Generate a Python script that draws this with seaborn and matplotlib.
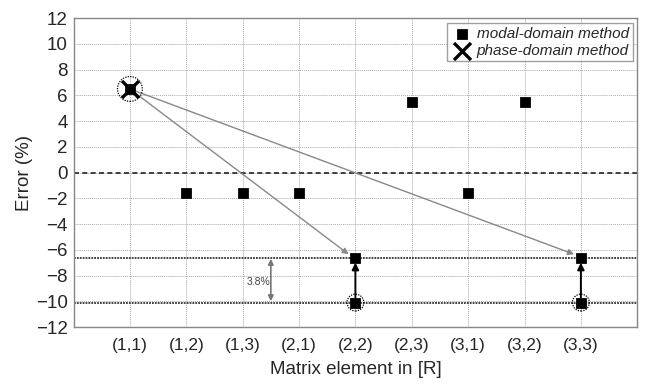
import numpy as np
import pandas as pd
import matplotlib
matplotlib.use('Agg')
import matplotlib.pyplot as plt
import seaborn as sns
from matplotlib.patches import Ellipse

# data
elements = ['(1,1)', '(1,2)', '(1,3)', '(2,1)', '(2,2)', '(2,3)', '(3,1)', '(3,2)', '(3,3)']
modal_pos = [1, 2, 3, 4, 5, 6, 7, 8, 9, 5, 9]
modal_err = [6.5, -1.6, -1.6, -1.6, -6.6, 5.5, -1.6, 5.5, -6.6, -10.1, -10.1]
phase_pos = [1]
phase_err = [6.5]
level_hi = -6.6
level_lo = -10.1

modal = pd.DataFrame({'pos': modal_pos, 'err': modal_err})
phase = pd.DataFrame({'pos': phase_pos, 'err': phase_err})

sns.set_style('white')
plt.rcParams['font.family'] = ['Liberation Sans', 'DejaVu Sans']

fig, ax = plt.subplots(figsize=(6.45, 3.87), dpi=100)
fig.subplots_adjust(left=0.114, right=0.988, top=0.953, bottom=0.155)

ax.set_xlim(0, 10)
ax.set_ylim(-12, 12)
ax.set_xticks(range(1, 10))
ax.set_xticks([10], minor=True)
ax.set_xticklabels(elements, fontsize=12.5)
ax.set_yticks(np.arange(-12, 13, 2))
ax.tick_params(axis='y', labelsize=13.5, length=0, pad=4)
ax.tick_params(axis='x', length=0, pad=8)
ax.grid(True, which='both', color='#aaaaaa', linestyle=(0, (1, 1)), linewidth=0.7)
for s in ax.spines.values():
    s.set_color('#888888')
    s.set_linewidth(1.0)

# reference lines
ax.axhline(0, color='#222222', linestyle=(0, (3, 2)), linewidth=1.2, zorder=2)
ax.axhline(level_hi, color='#333333', linestyle=(0, (1, 0.6)), linewidth=1.3, zorder=2)
ax.axhline(level_lo, color='#333333', linestyle=(0, (1, 0.6)), linewidth=1.3, zorder=2)

# gray arrows from (1,1) to (2,2) and (3,3), black arrows upward
for tx in [5, 9]:
    ax.annotate('', xy=(tx - 0.12, level_hi + 0.25), xytext=(phase_pos[0], phase_err[0]),
                arrowprops=dict(arrowstyle='-|>', color='#888888', lw=1.0,
                                mutation_scale=9, shrinkA=0, shrinkB=0), zorder=3)
    ax.annotate('', xy=(tx, level_hi - 0.4), xytext=(tx, level_lo + 0.4),
                arrowprops=dict(arrowstyle='-|>', color='black', lw=1.4,
                                mutation_scale=10, shrinkA=0, shrinkB=0), zorder=3)

# 3.8% double arrow
ax.annotate('', xy=(3.5, level_hi - 0.1), xytext=(3.5, level_lo + 0.1),
            arrowprops=dict(arrowstyle='<|-|>', color='#777777', lw=1.2,
                            mutation_scale=8, shrinkA=0, shrinkB=0), zorder=3)
ax.text(3.28, -8.5, '3.8%', fontsize=7.5, color='#444444', ha='center', va='center')

sns.scatterplot(data=modal, x='pos', y='err', marker='s', s=50, color='black',
                edgecolor='black', label='modal-domain method', ax=ax, zorder=5)
sns.scatterplot(data=phase, x='pos', y='err', marker='x', s=150, color='black',
                linewidth=2.4, label='phase-domain method', ax=ax, zorder=6)

# dotted circles
for cx, cy, r in [(1, 6.5, 0.22), (5, level_lo, 0.15), (9, level_lo, 0.15)]:
    ax.add_patch(Ellipse((cx, cy), width=2 * r, height=2 * r * 56.6 / 12.9,
                         fill=False, linestyle=(0, (1, 1)),
                         color='black', lw=0.9, zorder=7))

ax.set_xlabel('Matrix element in [R]', fontsize=13.5, labelpad=6)
ax.set_ylabel('Error (%)', fontsize=13.5, labelpad=2)

leg = ax.legend(loc='upper right', prop={'style': 'italic', 'size': 11}, frameon=True,
                fancybox=False, borderpad=0.25, handletextpad=0.2, labelspacing=0.2,
                borderaxespad=0.3, handlelength=1.5)
leg.get_frame().set_edgecolor('#888888')
leg.get_frame().set_linewidth(1.0)

fig.savefig('out.png', dpi=100)
